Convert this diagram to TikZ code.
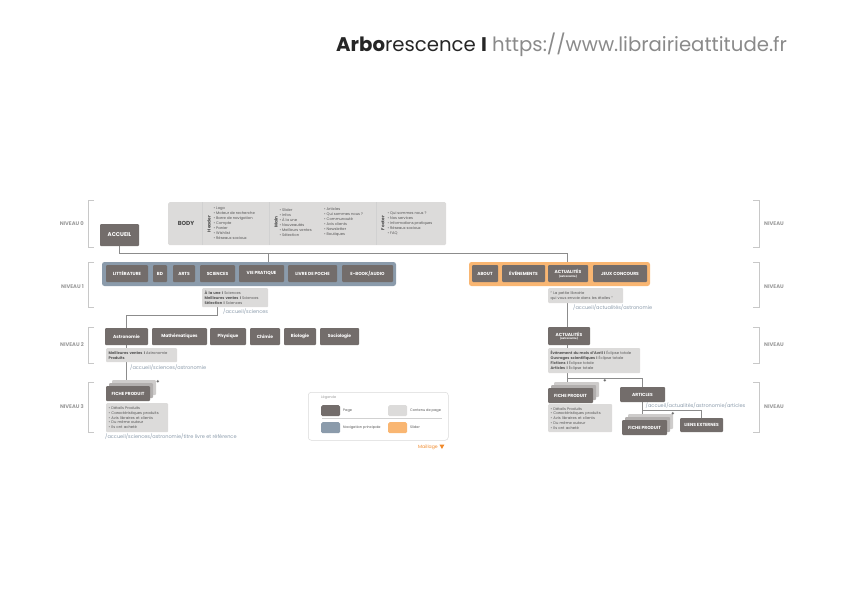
\documentclass[tikz,border=0pt]{standalone}
\usepackage{fontspec}
\setmainfont{Poppins}
\usepackage{xcolor}
\usepackage{tikz}
\definecolor{pagecol}{HTML}{736D6B}
\definecolor{contentcol}{HTML}{DCDBDA}
\definecolor{navcol}{HTML}{8B9BAB}
\definecolor{slidercol}{HTML}{F9B672}
\definecolor{edgecol}{HTML}{8C8C8C}
\definecolor{bracketcol}{HTML}{C8C8C8}
\definecolor{labelcol}{HTML}{9A9A9A}
\definecolor{textcol}{HTML}{555555}
\definecolor{darkcol}{HTML}{4A4A4A}
\definecolor{urlcol}{HTML}{8A8A8A}
\definecolor{mailcol}{HTML}{F08A2C}
\tikzstyle{page}=[fill=pagecol, text=white, font=\bfseries\fontsize{4.4}{5}\selectfont, inner sep=0pt, rounded corners=1pt]
\tikzstyle{menu}=[style=page, minimum height=17pt]
\tikzstyle{card}=[fill=pagecol!55, inner sep=0pt, rounded corners=1pt]
\tikzstyle{content}=[fill=contentcol, text=textcol, font=\fontsize{3.7}{4.8}\selectfont, align=left, inner xsep=2.5pt, inner ysep=0pt, rounded corners=1pt, anchor=north west]
\tikzstyle{list}=[text=textcol, font=\fontsize{3.7}{5}\selectfont, align=left, inner sep=0pt, anchor=west]
\tikzstyle{side}=[text=darkcol, font=\bfseries\fontsize{4.3}{5}\selectfont, inner sep=0pt, rotate=90]
\tikzstyle{nav frame}=[fill=navcol, rounded corners=2.5pt, inner sep=0pt]
\tikzstyle{slider frame}=[fill=slidercol, rounded corners=2.5pt, inner sep=0pt]
\tikzstyle{link}=[text=navcol, font=\fontsize{5}{6}\selectfont, anchor=base west, inner sep=0pt]
\tikzstyle{edge}=[-, draw=edgecol, line width=0.6pt]
\tikzstyle{divider}=[-, draw=black!18, line width=0.5pt]
\tikzstyle{bracket}=[-, draw=bracketcol, line width=0.6pt]
\tikzstyle{level}=[text=labelcol, font=\bfseries\fontsize{5.2}{5.5}\selectfont, inner sep=0pt]
\tikzstyle{swatch}=[inner sep=0pt, minimum width=19pt, minimum height=11pt, rounded corners=1.5pt, anchor=north west]
\tikzstyle{key}=[text=textcol, font=\fontsize{3.5}{4}\selectfont, inner sep=0pt, anchor=west]
\pgfdeclarelayer{framelayer}
\pgfdeclarelayer{edgelayer}
\pgfdeclarelayer{nodelayer}
\pgfsetlayers{framelayer,edgelayer,nodelayer,main}

\begin{document}
\begin{tikzpicture}[x=1pt, y=-1pt]
	\useasboundingbox (0,0) rectangle (842,597);
	% title
	\node [anchor=base west, inner sep=0pt, font=\fontsize{19.7}{22}\selectfont, text=black!85] (title) at (336,51) {\textbf{Arbo}rescence \textbf{I} \textcolor{urlcol}{https://www.librairieattitude.fr}};

	% levels
	\draw [style=bracket] (94,200) -- (88,200) -- (88,247) -- (94,247);
	\draw [style=bracket] (94,262) -- (88,262) -- (88,307) -- (94,307);
	\draw [style=bracket] (94,327) -- (88,327) -- (88,363) -- (94,363);
	\draw [style=bracket] (94,382) -- (88,382) -- (88,432) -- (94,432);
	\draw [style=bracket] (753,200) -- (759,200) -- (759,247) -- (753,247);
	\draw [style=bracket] (753,262) -- (759,262) -- (759,307) -- (753,307);
	\draw [style=bracket] (753,327) -- (759,327) -- (759,363) -- (753,363);
	\draw [style=bracket] (753,382) -- (759,382) -- (759,432) -- (753,432);
	\node [style=level, anchor=east] (lv0) at (84,224) {NIVEAU 0};
	\node [style=level, anchor=east] (lv1) at (84,287) {NIVEAU 1};
	\node [style=level, anchor=east] (lv2) at (84,345) {NIVEAU 2};
	\node [style=level, anchor=east] (lv3) at (84,407) {NIVEAU 3};
	\node [style=level, anchor=west] (rv0) at (764,224) {NIVEAU};
	\node [style=level, anchor=west] (rv1) at (764,287) {NIVEAU};
	\node [style=level, anchor=west] (rv2) at (764,345) {NIVEAU};
	\node [style=level, anchor=west] (rv3) at (764,407) {NIVEAU};

	\begin{pgfonlayer}{framelayer}
		\node [fill=contentcol, rounded corners=1.5pt, anchor=north west, minimum width=278pt, minimum height=43pt, inner sep=0pt] (body) at (168,202) {};
		\node [style=nav frame, minimum width=294pt, minimum height=24pt] (nav) at (249,274) {};
		\node [style=slider frame, minimum width=181pt, minimum height=24pt] (slider) at (559.5,274) {};
		\node [draw=black!15, line width=0.5pt, rounded corners=3pt, anchor=north west, minimum width=140pt, minimum height=48pt, inner sep=0pt] (legend) at (308,392) {};
	\end{pgfonlayer}

	\begin{pgfonlayer}{nodelayer}
		% niveau 0
		\node [style=page, font=\bfseries\fontsize{5.5}{6}\selectfont, minimum width=39pt, minimum height=22pt] (accueil) at (119.5,235) {ACCUEIL};
		\node [text=darkcol, font=\bfseries\fontsize{5.8}{6}\selectfont, inner sep=0pt] (bodylabel) at (186,223.5) {BODY};
		\node [style=side] (header) at (209,224) {Header};
		\node [style=list] (headerlist) at (213.5,223.3) {• Logo\\• Moteur de recherche\\• Barre de navigation\\• Compte\\• Panier\\• Wishlist\\• Réseaux sociaux};
		\node [style=side] (main) at (276,222) {Main};
		\node [style=list] (mainlist) at (279.5,222.5) {• Slider\\• Infos\\• À la une\\• Nouveautés\\• Meilleurs ventes\\• Sélection};
		\node [style=list] (mainlist2) at (324,222.5) {• Articles\\• Qui sommes nous ?\\• Communauté\\• Avis clients\\• Newsletter\\• Boutiques};
		\node [style=side] (footer) at (383,223) {Footer};
		\node [style=list] (footerlist) at (387.5,223) {• Qui sommes nous ?\\• Nos services\\• Informations pratiques\\• Réseaux sociaux\\• FAQ};

		% niveau 1
		\node [style=menu, minimum width=42pt] (litterature) at (127,273.5) {LITTÉRATURE};
		\node [style=menu, minimum width=14pt] (bd) at (160,273.5) {BD};
		\node [style=menu, minimum width=22pt] (arts) at (184,273.5) {ARTS};
		\node [style=menu, minimum width=35pt] (sciences) at (217.5,273.5) {SCIENCES};
		\node [style=menu, minimum width=45pt] (pratique) at (261.5,273.5) {VIE PRATIQUE};
		\node [style=menu, minimum width=49pt] (poche) at (312.5,273.5) {LIVRE DE POCHE};
		\node [style=menu, minimum width=51pt] (ebook) at (367.5,273.5) {E-BOOK/AUDIO};
		\node [style=menu, minimum width=26pt] (about) at (485,273.5) {ABOUT};
		\node [style=menu, minimum width=43pt] (evenements) at (523.5,273.5) {ÉVÉNEMENTS};
		\node [style=menu, minimum width=40pt, align=center] (actus) at (568,273.5) {ACTUALITÉS\\[-1.5pt]{\fontsize{2.6}{3}\selectfont (astronomie)}};
		\node [style=menu, minimum width=54pt] (jeux) at (620,273.5) {JEUX CONCOURS};
		\node [style=content, text width=61pt, minimum height=19pt] (scinfo) at (202,288) {\textbf{À la une I} Sciences\\\textbf{Meilleures ventes I} Sciences\\\textbf{Sélection I} Sciences};
		\node [style=content, text width=70pt, minimum height=15pt] (actinfo) at (548,288) {“ La petite librairie\\qui vous envoie dans les étoiles ”};
		\node [style=link] (scilink) at (223,313.5) {/accueil/sciences};
		\node [style=link] (actlink) at (573,309.5) {/accueil/actualités/astronomie};

		% niveau 2
		\node [style=menu, minimum width=43pt] (astro) at (126.5,336.5) {Astronomie};
		\node [style=menu, minimum width=55pt] (maths) at (179.5,336.5) {Mathématiques};
		\node [style=menu, minimum width=36pt] (physique) at (228,336.5) {Physique};
		\node [style=menu, minimum width=30pt] (chimie) at (265,336.5) {Chimie};
		\node [style=menu, minimum width=32pt] (biologie) at (300,336.5) {Biologie};
		\node [style=menu, minimum width=39pt] (sociologie) at (339.5,336.5) {Sociologie};
		\node [style=menu, minimum width=42pt, minimum height=18pt, align=center] (actus2) at (569,336) {ACTUALITÉS\\[-1.5pt]{\fontsize{2.6}{3}\selectfont (astronomie)}};
		\node [style=content, text width=66pt, minimum height=14pt] (astroinfo) at (106,348) {\textbf{Meilleures ventes I} Astronomie\\\textbf{Produits}};
		\node [style=content, text width=87pt, minimum height=25pt] (actus2info) at (548,348) {\textbf{Évènement du mois d'Avril I} Éclipse totale\\\textbf{Ouvrages scientifiques I} Éclipse totale\\\textbf{Fictions I} Éclipse totale\\\textbf{Articles I} Éclipse totale};
		\node [style=link] (astrolink) at (130,369.5) {/accueil/sciences/astronomie};

		% niveau 3
		\node [style=card, fill=pagecol!35, minimum width=44pt, minimum height=15pt] (ficheAback2) at (134,387.5) {};
		\node [style=card, minimum width=44pt, minimum height=15pt] (ficheAback) at (131,390.5) {};
		\node [style=page, minimum width=44pt, minimum height=15pt] (ficheA) at (128,393.5) {FICHE PRODUIT};
		\node [text=textcol, font=\bfseries\fontsize{5}{5}\selectfont, inner sep=0pt] (plusA) at (158,382) {+};
		\node [style=content, text width=57pt, minimum height=29pt] (ficheAinfo) at (106,403) {• Détails Produits\\• Caractéristiques produits\\• Avis libraires et clients\\• Du même auteur\\• Ils ont acheté};
		\node [style=link] (fichelink) at (105,438.5) {/accueil/sciences/astronomie/titre livre et référence};

		\node [style=card, fill=pagecol!35, minimum width=45pt, minimum height=15pt] (ficheBback2) at (576.5,389.5) {};
		\node [style=card, minimum width=45pt, minimum height=15pt] (ficheBback) at (573.5,392.5) {};
		\node [style=page, minimum width=45pt, minimum height=15pt] (ficheB) at (570.5,395.5) {FICHE PRODUIT};
		\node [text=textcol, font=\bfseries\fontsize{5}{5}\selectfont, inner sep=0pt] (plusB) at (605,381) {+};
		\node [style=page, minimum width=45pt, minimum height=15pt] (articles) at (642.5,394.5) {ARTICLES};
		\node [style=content, text width=59pt, minimum height=28pt] (ficheBinfo) at (548,404) {• Détails Produits\\• Caractéristiques produits\\• Avis libraires et clients\\• Du même auteur\\• Ils ont acheté};
		\node [style=link] (articlelink) at (645.5,407.5) {/accueil/actualités/astronomie/articles};

		\node [style=card, fill=pagecol!35, minimum width=45pt, minimum height=15pt] (ficheCback2) at (650.5,421.5) {};
		\node [style=card, minimum width=45pt, minimum height=15pt] (ficheCback) at (647.5,424.5) {};
		\node [style=page, minimum width=45pt, minimum height=15pt] (ficheC) at (644.5,427.5) {FICHE PRODUIT};
		\node [text=textcol, font=\bfseries\fontsize{5}{5}\selectfont, inner sep=0pt] (plusC) at (673,414) {+};
		\node [style=page, minimum width=43pt, minimum height=14pt] (liens) at (701.5,425) {LIENS EXTERNES};

		% legende
		\node [style=key, text=labelcol] (legendtitle) at (321,398) {Légende};
		\node [style=swatch, fill=pagecol] (keypage) at (321,405) {};
		\node [style=key] (keypagetext) at (343,410.5) {Page};
		\node [style=swatch, fill=contentcol] (keycontent) at (388,405) {};
		\node [style=key] (keycontenttext) at (410,410.5) {Contenu de page};
		\node [style=swatch, fill=navcol] (keynav) at (321,422) {};
		\node [style=key] (keynavtext) at (343,427.5) {Navigation principale};
		\node [style=swatch, fill=slidercol] (keyslider) at (388,422) {};
		\node [style=key] (keyslidertext) at (410,427.5) {Slider};
		\node [text=mailcol, font=\fontsize{4.6}{5}\selectfont, inner sep=0pt, anchor=base west] (maillage) at (418,448.5) {Maillage};
		\fill [mailcol] (maillage.base east) ++(1.5,-4) -- ++(5,0) -- ++(-2.5,4.5) -- cycle;
	\end{pgfonlayer}

	\begin{pgfonlayer}{edgelayer}
		\coordinate (hub) at (567,253);
		\coordinate (navin) at (268,253);
		\coordinate (split) at (0,378);
		\coordinate (split2) at (0,410);
		\draw [style=divider] (202,202) -- (202,245);
		\draw [style=divider] (269,202) -- (269,245);
		\draw [style=divider] (376,202) -- (376,245);
		\draw [style=divider] (322,418.5) -- (442,418.5);
		\draw [style=edge] (accueil.south) |- (hub) -- (hub |- slider.north);
		\draw [style=edge] (navin) -- (navin |- nav.north);
		\draw [style=edge] (scinfo.south -| sciences.south) -- ++(0,8) -| (astro.north);
		\draw [style=edge] (actinfo.south -| hub) -- (actus2.north -| hub);
		\draw [style=edge] (astro.south) -- (astro.south |- ficheAback2.north);
		\draw [style=edge] (actus2.south -| hub) -- (hub |- ficheB.north);
		\draw [style=edge] (hub |- split) -| (articles.north);
		\draw [style=edge] (articles.south) -- (articles.south |- ficheC.north);
		\draw [style=edge] (articles.south |- split2) -| (liens.north);
	\end{pgfonlayer}
\end{tikzpicture}
\end{document}
